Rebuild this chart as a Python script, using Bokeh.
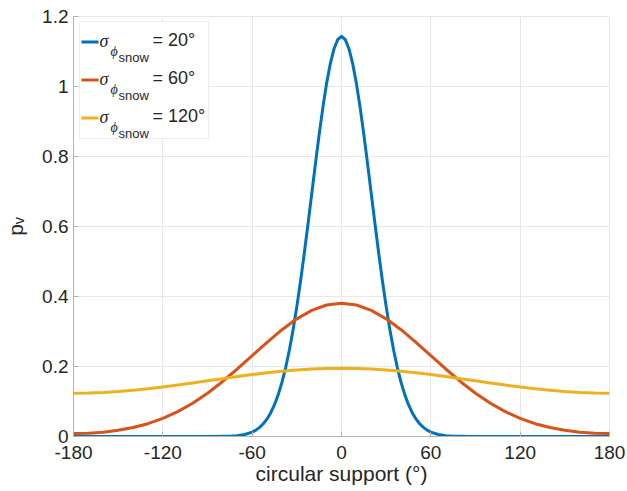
from bokeh.plotting import figure
from bokeh.models import Label, BoxAnnotation, FixedTicker, Range1d
from bokeh.embed import file_html
from bokeh.resources import INLINE

# ---------------- data ----------------
blue_deg = [-180, -170, -160, -150, -140, -130, -120, -110, -100, -90,
            -85, -80, -75, -70, -65, -60, -57.5, -55, -52.5, -50, -47.5,
            -45, -42.5, -40, -37.5, -35, -32.5, -30, -27.5, -25, -22.5,
            -20, -17.5, -15, -12.5, -10, -7.5, -5, -2.5, 0,
            2.5, 5, 7.5, 10, 12.5, 15, 17.5, 20, 22.5, 25, 27.5, 30, 32.5,
            35, 37.5, 40, 42.5, 45, 47.5, 50, 52.5, 55, 57.5, 60,
            65, 70, 75, 80, 85, 90, 100, 110, 120, 130, 140, 150, 160, 170, 180]
blue_pv = [0.0, 0.0, 0.0, 0.0, 0.0, 0.0, 0.0, 0.0, 0.0, 0.0,
           0.0001, 0.0004, 0.0010, 0.0025, 0.0058, 0.0127, 0.0183, 0.0261, 0.0365, 0.0502, 0.0681,
           0.0910, 0.1196, 0.1547, 0.1971, 0.2472, 0.3053, 0.3711, 0.4442, 0.5234, 0.6071,
           0.6934, 0.7796, 0.8629, 0.9404, 1.0089, 1.0656, 1.1080, 1.1343, 1.1432,
           1.1343, 1.1080, 1.0656, 1.0089, 0.9404, 0.8629, 0.7796, 0.6934, 0.6071, 0.5234, 0.4442, 0.3711, 0.3053,
           0.2472, 0.1971, 0.1547, 0.1196, 0.0910, 0.0681, 0.0502, 0.0365, 0.0261, 0.0183, 0.0127,
           0.0058, 0.0025, 0.0010, 0.0004, 0.0001, 0.0, 0.0, 0.0, 0.0, 0.0, 0.0, 0.0, 0.0, 0.0, 0.0]

wide_deg = [-180, -170, -160, -150, -140, -130, -120, -110, -100, -90,
            -80, -70, -60, -50, -40, -30, -20, -10, 0,
            10, 20, 30, 40, 50, 60, 70, 80, 90, 100,
            110, 120, 130, 140, 150, 160, 170, 180]
red_pv = [0.0085, 0.0094, 0.0124, 0.0176, 0.0255, 0.0366, 0.0517, 0.0710, 0.0950, 0.1237,
          0.1566, 0.1929, 0.2311, 0.2692, 0.3051, 0.3362, 0.3604, 0.3757, 0.3810,
          0.3757, 0.3604, 0.3362, 0.3051, 0.2692, 0.2311, 0.1929, 0.1566, 0.1237, 0.0950,
          0.0710, 0.0517, 0.0366, 0.0255, 0.0176, 0.0124, 0.0094, 0.0085]
yellow_pv = [0.1237, 0.1242, 0.1258, 0.1284, 0.1320, 0.1363, 0.1414, 0.1470, 0.1529, 0.1591,
             0.1653, 0.1713, 0.1769, 0.1820, 0.1864, 0.1899, 0.1926, 0.1942, 0.1947,
             0.1942, 0.1926, 0.1899, 0.1864, 0.1820, 0.1769, 0.1713, 0.1653, 0.1591, 0.1529,
             0.1470, 0.1414, 0.1363, 0.1320, 0.1284, 0.1258, 0.1242, 0.1237]

x_ticks = [-180, -120, -60, 0, 60, 120, 180]
x_tick_labels = ["-180", "-120", "-60", "0", "60", "120", "180"]
y_ticks = [0, 0.2, 0.4, 0.6, 0.8, 1, 1.2]
y_tick_labels = ["0", "0.2", "0.4", "0.6", "0.8", "1", "1.2"]
legend_values = ["= 20°", "= 60°", "= 120°"]
colors = ["#0072BD", "#D95319", "#EDB120"]
x_label = "circular support (°)"
y_label = "p\u1d65"   # p with subscript v

# ---------------- layout ----------------
W, H = 627, 491
BL, BR, BT, BB = 73, 18, 16, 55
FX0, FY0 = BL, BT                      # frame top-left in canvas px
FW, FH = W - BL - BR, H - BT - BB
XMIN, XMAX, YMIN, YMAX = -180, 180, 0, 1.2

FONT = "Liberation Sans"
TXT = "#262626"
AX = "#b3b3b3"
LW = 3

p = figure(width=W, height=H, output_backend="svg", toolbar_location=None,
           x_range=Range1d(XMIN, XMAX), y_range=Range1d(YMIN, YMAX),
           min_border_left=BL, min_border_right=BR, min_border_top=BT, min_border_bottom=BB,
           background_fill_color="white", border_fill_color="white")
p.outline_line_color = "#e6e6e6"

p.xaxis.ticker = FixedTicker(ticks=x_ticks)
p.yaxis.ticker = FixedTicker(ticks=y_ticks)
p.xaxis.major_label_overrides = {t: s for t, s in zip(x_ticks, x_tick_labels)}
p.yaxis.major_label_overrides = {t: s for t, s in zip(y_ticks, y_tick_labels)}
for ax in (p.xaxis, p.yaxis):
    ax.major_label_text_font = FONT
    ax.major_label_text_font_size = "19px"
    ax.major_label_text_color = TXT
    ax.axis_line_color = AX
    ax.major_tick_line_color = AX
    ax.major_tick_in = 5
    ax.major_tick_out = 0
    ax.minor_tick_line_color = None
    ax.axis_label_text_font = FONT
    ax.axis_label_text_font_size = "21px"
    ax.axis_label_text_font_style = "normal"
    ax.axis_label_text_color = TXT
p.xaxis.major_label_standoff = 9
p.yaxis.major_label_standoff = 5
p.xaxis.axis_label = x_label
p.xaxis.axis_label_standoff = 0
p.yaxis.axis_label = y_label
p.yaxis.axis_label_standoff = 12
p.grid.grid_line_color = "#e8e8e8"
p.grid.grid_line_width = 1


def px2x(wx):
    return XMIN + (wx - FX0) / FW * (XMAX - XMIN)


def py2y(wy):
    return YMAX - (wy - FY0) / FH * (YMAX - YMIN)


# legend box (under the glyphs, above the grid)
p.add_layout(BoxAnnotation(left=px2x(79), right=px2x(208), top=py2y(21), bottom=py2y(138),
                           fill_color="white", fill_alpha=1.0, line_color="#c4c4c4",
                           line_width=1, level="underlay"))

# curves
p.line(blue_deg, blue_pv, line_color=colors[0], line_width=LW, line_join="round")
p.line(wide_deg, red_pv, line_color=colors[1], line_width=LW, line_join="round")
p.line(wide_deg, yellow_pv, line_color=colors[2], line_width=LW, line_join="round")


def lab(text, wx, wy, size, font=FONT, style="normal", align="left"):
    p.add_layout(Label(x=XMIN, y=YMAX, x_offset=wx - FX0, y_offset=FY0 - wy, text=text,
                       text_font=font, text_font_size=f"{size}px", text_font_style=style,
                       text_color=TXT, text_align=align, text_baseline="alphabetic"))


# legend entries
rows = [41.5, 79.5, 117.5]
for i, L in enumerate(rows):
    p.segment(x0=[px2x(81)], y0=[py2y(L)], x1=[px2x(98)], y1=[py2y(L)],
              line_color=colors[i], line_width=LW)
    lab("σ", 99, L - 1.5, 18, font="Liberation Serif", style="italic")
    lab("ϕ", 110, L + 9, 14, font="Liberation Serif", style="italic")
    lab("snow", 118, L + 15.5, 13)
    lab(legend_values[i], 152, L - 2, 18)

open("out.html", "w").write(file_html(p, INLINE))
